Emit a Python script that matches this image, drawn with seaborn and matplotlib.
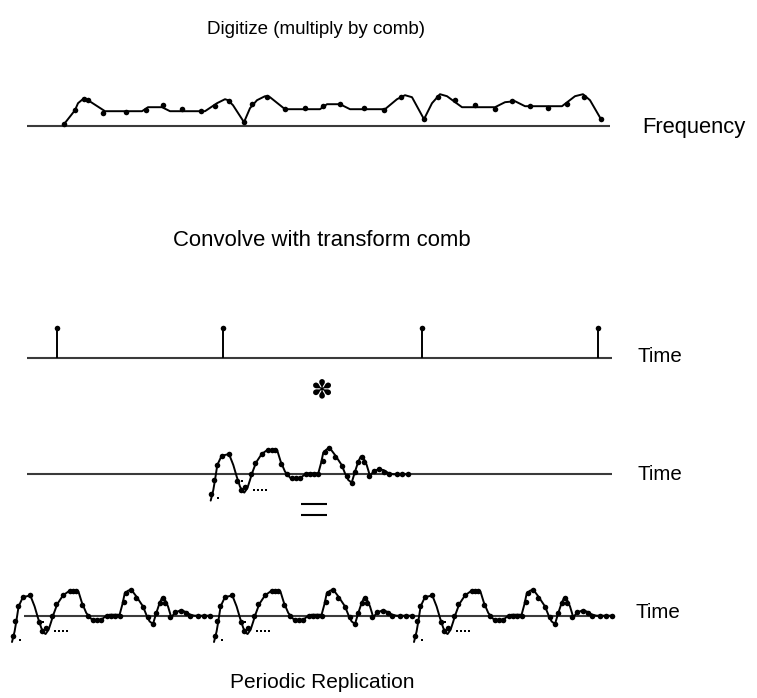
import matplotlib
matplotlib.use("Agg")
import matplotlib.pyplot as plt
import numpy as np
import pandas as pd
import seaborn as sns

sns.set_theme(style="white")
plt.rcParams["font.family"] = ["Liberation Sans", "DejaVu Sans"]
plt.rcParams["text.color"] = "black"

# ---- sampled spectrum (top row): x position and height above its axis ----
freq_line_x = [64, 75, 78, 84, 88, 105, 142, 148, 162, 170, 205, 217, 225, 228, 233,
               244, 250, 257, 265, 270, 285, 320, 327, 340, 350, 385, 397, 405, 412,
               424, 432, 440, 447, 462, 495, 505, 515, 525, 562, 575, 583, 590, 601]
freq_line_amp = [1.5, 15.5, 22.5, 27.5, 25.5, 14.5, 14.5, 18.5, 18.5, 14.5, 14.5, 22.5,
                 26.5, 25.5, 20.5, 3.5, 17.5, 25.5, 29.5, 28.5, 16.5, 16.5, 21.5, 21.5,
                 16.5, 16.5, 26.5, 30.5, 28.5, 6.5, 22.5, 31.5, 29.5, 18.5, 18.5, 23.5,
                 24.5, 19.5, 19.5, 29.5, 31.5, 25.5, 6.5]
freq_dot_x = [64, 75, 84, 88, 103, 126, 146, 163, 182, 201, 215, 229, 244, 252, 267, 285,
              305, 323, 340, 364, 384, 401, 424, 438, 455, 475, 495, 512, 530, 548, 567,
              584, 601]
freq_dot_amp = [1.5, 15.5, 26.5, 25.5, 12.5, 13.5, 15.5, 20.5, 16.5, 14.5, 19.5, 24.5,
                3.5, 21.5, 28.5, 16.5, 17.5, 19.5, 21.5, 17.5, 15.5, 28.5, 6.5, 28.5,
                25.5, 20.5, 16.5, 24.5, 19.5, 17.5, 21.5, 28.5, 6.5]

# ---- transform comb (time domain) ----
comb_x = [57, 223, 422, 598]
comb_amp = [30, 30, 30, 30]

# ---- one period of the time signal: offset from its start, height ----
pulse_line_dx = [0, 2.6, 4.3, 6.6, 11, 14.3, 18.3, 22.6, 26, 29.3, 32, 33.6, 36.6, 39.3,
                 41, 45.3, 51, 56.6, 62.6, 66.6, 70, 74.3, 79.3, 82.6, 89.3, 94.3, 97.6,
                 107.6, 110.3, 112.6, 116, 119.3, 124.3, 131, 134.3, 137.6, 141, 144.3,
                 147.6, 150, 152.6, 156, 159.3, 162.6, 167.6, 172.6, 178.3, 182.6, 197.6]
pulse_line_amp = [-26.3, -15.7, -5.7, 9.3, 18.7, 19.3, 20.3, 9.3, -2.3, -12.3, -17.3,
                  -18.3, -14, -5.7, 0, 11.7, 20.3, 24.3, 24.3, 23.7, 12.7, 2.7, -3.3, -4,
                  -4, 0, 1, 1, 11, 21.7, 25, 26, 19.3, 9.3, 1, -5.7, -8.3, 2.7, 12.7,
                  17.7, 17, 9.3, -1.7, 2.7, 5, 4.3, 1, 0, 0]
pulse_dot_dx = [0.5, 3.3, 6, 11, 18.3, 26.7, 30, 34.3, 40, 44.3, 51, 57.7, 61, 64.3, 70,
                76, 81, 85.3, 89.3, 95.3, 99.3, 103.3, 107.7, 112, 114.3, 118.7, 124.3,
                131, 136, 141, 144.3, 147.7, 151, 153.3, 158.3, 163.3, 168.7, 173.7,
                178.3, 186, 191.7, 197.7]
pulse_dot_amp = [-20, -5.7, 9.3, 18.7, 20.3, -6.3, -15.7, -12.3, 0, 11.7, 20.3, 24.3,
                 24.3, 24.3, 10.3, 0, -4, -4, -4, 0, 0, 0, 0, 13.7, 22.7, 26, 17.7, 8.3,
                 -1.7, -8.3, 2.7, 12.7, 17.7, 12.7, -1.7, 3.7, 5, 2.7, 0, 0, 0, 0]
# faint dotted trace under the first dip
pulse_faint_dx = [7.7, 31, 43, 47, 51, 55]
pulse_faint_amp = [-24, -6.5, -15.5, -15.5, -15.5, -15.5]

# ---- panel layout ----
axis_y = {"freq": 125.7, "comb": 357.5, "single": 474.3, "replica": 615.7}
axis_span = {"freq": (27, 610), "comb": (27, 612), "single": (27, 612), "replica": (24, 612)}
single_start = 210.7
replica_starts = [12, 214, 414]

INK = "black"
AXIS_INK = "#3a3a3a"

fig = plt.figure(figsize=(7.57, 6.98), dpi=100)
ax = fig.add_axes([0, 0, 1, 1])

# horizontal axes of every row
for key, yb in axis_y.items():
    x0, x1 = axis_span[key]
    ax.hlines(yb, x0, x1, color=AXIS_INK, lw=1.5, zorder=1)

# spectrum
yb = axis_y["freq"]
freq_line = pd.DataFrame({"x": freq_line_x, "y": [yb - a for a in freq_line_amp]})
freq_dots = pd.DataFrame({"x": freq_dot_x, "y": [yb - a for a in freq_dot_amp]})
sns.lineplot(data=freq_line, x="x", y="y", sort=False, estimator=None,
             color=INK, lw=1.4, ax=ax, zorder=2)
sns.scatterplot(data=freq_dots, x="x", y="y", color=INK, s=16, linewidth=0,
                ax=ax, zorder=3)

# comb
yb = axis_y["comb"]
comb = pd.DataFrame({"x": comb_x, "y": [yb - a for a in comb_amp]})
ax.vlines(comb["x"], yb, comb["y"], color=INK, lw=1.4, zorder=2)
sns.scatterplot(data=comb, x="x", y="y", color=INK, s=16, linewidth=0, ax=ax, zorder=3)


def pulse_frames(starts, base):
    line, dots, faint = [], [], []
    for k, x0 in enumerate(starts):
        line.append(pd.DataFrame({"x": [x0 + d for d in pulse_line_dx],
                                  "y": [base - a for a in pulse_line_amp], "copy": k}))
        dots.append(pd.DataFrame({"x": [x0 + d for d in pulse_dot_dx],
                                  "y": [base - a for a in pulse_dot_amp], "copy": k}))
        faint.append(pd.DataFrame({"x": [x0 + d for d in pulse_faint_dx],
                                   "y": [base - a for a in pulse_faint_amp], "copy": k}))
    return pd.concat(line), pd.concat(dots), pd.concat(faint)


for starts, key in (([single_start], "single"), (replica_starts, "replica")):
    line, dots, faint = pulse_frames(starts, axis_y[key])
    sns.lineplot(data=line, x="x", y="y", units="copy", sort=False, estimator=None,
                 color=INK, lw=1.4, ax=ax, zorder=2)
    sns.scatterplot(data=dots, x="x", y="y", color=INK, s=16, linewidth=0, ax=ax, zorder=3)
    sns.scatterplot(data=faint, x="x", y="y", color=INK, s=3, marker="s", linewidth=0,
                    ax=ax, zorder=3)

ax.set_xlim(0, 757)
ax.set_ylim(698, 0)
ax.axis("off")

ax.text(316, 30, "Digitize (multiply by comb)", ha="center", va="center", fontsize=13.5)
ax.text(642, 127, "Frequency", ha="left", va="center", fontsize=15.8)
ax.text(322, 240, "Convolve with transform comb", ha="center", va="center", fontsize=15.9)
ax.text(638, 357, "Time", ha="left", va="center", fontsize=14.8)
ax.text(638, 475, "Time", ha="left", va="center", fontsize=14.8)
ax.text(636, 612, "Time", ha="left", va="center", fontsize=14.8)
ax.text(322, 683, "Periodic Replication", ha="center", va="center", fontsize=15)

# operator symbols
ax.text(321.5, 390, "\u273d", ha="center", va="center", fontsize=19,
        family="DejaVu Sans")
eq_x = (301, 327)
for y in (504, 515):
    ax.hlines(y, *eq_x, color=INK, lw=1.5)

fig.savefig("out.png", dpi=100)
